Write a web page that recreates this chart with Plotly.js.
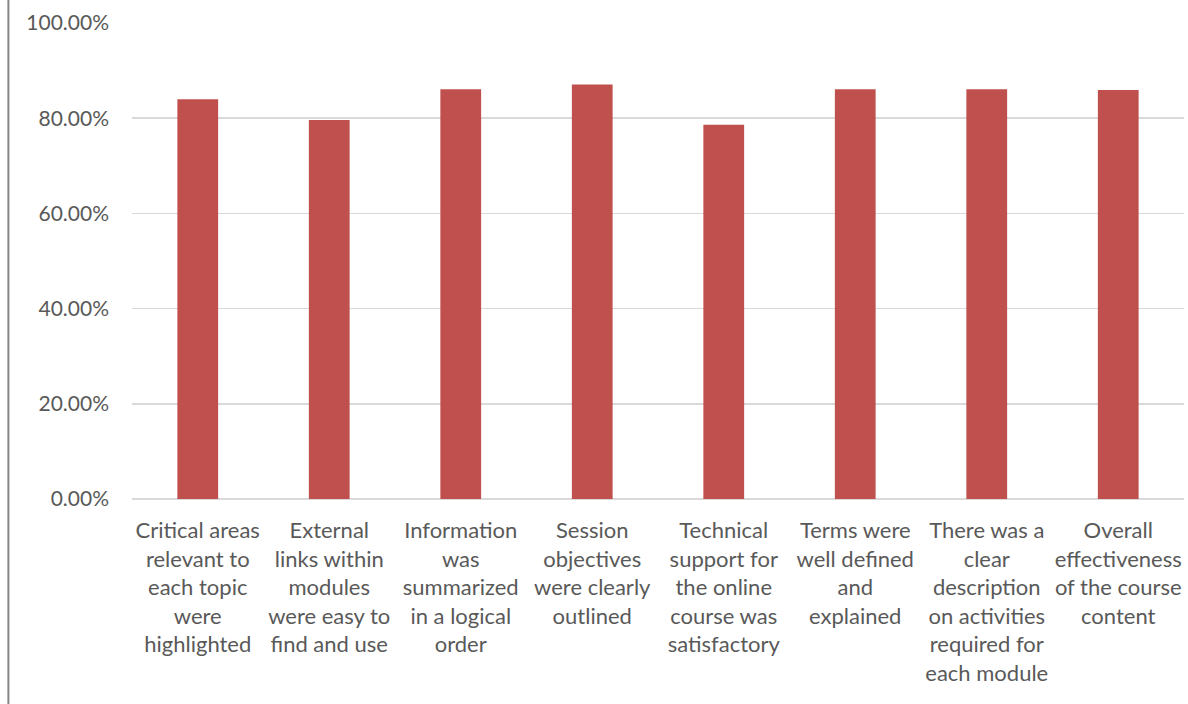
<!DOCTYPE html>
<html>
<head>
<meta charset="utf-8">
<script src="https://cdn.plot.ly/plotly-3.0.1.min.js"></script>
<style>
html,body{margin:0;padding:0;background:#fff;}
#chart{width:1188px;height:704px;}
</style>
</head>
<body>
<div id="chart"></div>
<script>
const categories = [
  "Critical areas relevant to each topic were highlighted",
  "External links within modules were easy to find and use",
  "Information was summarized in a logical order",
  "Session objectives were clearly outlined",
  "Technical support for the online course was satisfactory",
  "Terms were well defined and explained",
  "There was a clear description on activities required for each module",
  "Overall effectiveness of the course content"
];
const tickLabels = [
  "Critical areas<br>relevant to<br>each topic<br>were<br>highlighted",
  "External<br>links within<br>modules<br>were easy to<br>find and use",
  "Information<br>was<br>summarized<br>in a logical<br>order",
  "Session<br>objectives<br>were clearly<br>outlined",
  "Technical<br>support for<br>the online<br>course was<br>satisfactory",
  "Terms were<br>well defined<br>and<br>explained",
  "There was a<br>clear<br>description<br>on activities<br>required for<br>each module",
  "Overall<br>effectiveness<br>of the course<br>content"
];
const values = [0.840, 0.796, 0.861, 0.871, 0.786, 0.861, 0.861, 0.859];

const fontFam = "Lato, 'Open Sans', 'Liberation Sans', sans-serif";

const trace = {
  type: 'bar',
  x: categories,
  y: values,
  marker: {color: '#C0504D', line: {width: 0}},
  hoverinfo: 'x+y'
};

const layout = {
  width: 1188,
  height: 704,
  margin: {l: 132, r: 4, t: 22.5, b: 205},
  paper_bgcolor: '#ffffff',
  plot_bgcolor: '#ffffff',
  bargap: 0.69,
  showlegend: false,
  font: {family: fontFam, size: 19, color: '#595959'},
  xaxis: {
    type: 'category',
    tickmode: 'array',
    tickvals: categories,
    ticktext: tickLabels,
    tickangle: 0,
    showgrid: false,
    showline: false,
    zeroline: false,
    ticks: '',
    ticklabelstandoff: 16,
    tickfont: {family: fontFam, size: 22, color: '#595959'}
  },
  yaxis: {
    range: [0, 1],
    dtick: 0.2,
    tick0: 0,
    tickformat: '.2%',
    showgrid: true,
    gridcolor: '#d9d9d9',
    gridwidth: 1.5,
    zeroline: true,
    zerolinecolor: '#d9d9d9',
    zerolinewidth: 1.5,
    showline: false,
    ticks: '',
    ticklabelstandoff: 22,
    tickfont: {family: fontFam, size: 21, color: '#595959'}
  },
  shapes: [{
    type: 'line', xref: 'paper', yref: 'paper',
    x0: -0.1175, x1: -0.1175, y0: -0.45, y1: 1.06,
    line: {color: '#868686', width: 2}
  }]
};

Plotly.newPlot('chart', [trace], layout, {displayModeBar: false, staticPlot: true});
</script>
</body>
</html>
